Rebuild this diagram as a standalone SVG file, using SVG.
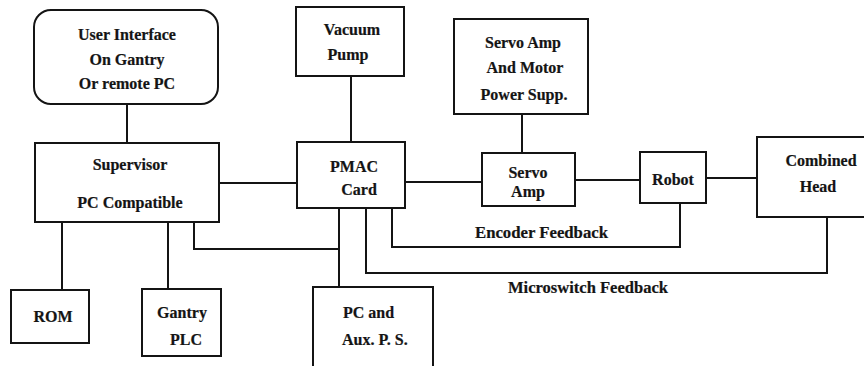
<svg xmlns="http://www.w3.org/2000/svg" width="864" height="366" viewBox="0 0 864 366">
<style>
  .box { fill: #ffffff; stroke: #141414; stroke-width: 2; }
  .wire { fill: none; stroke: #141414; stroke-width: 2; }
  .t { font-family: 'Liberation Serif', 'Times New Roman', Times, serif; font-size: 16px; font-weight: 700; fill: #141414; stroke: #141414; stroke-width: 0.2; }
  .c { text-anchor: middle; }
</style>
<rect width="864" height="366" fill="#ffffff"/>
<g id="connectors">
  <path class="wire" d="M127,104 V143"/>
  <path class="wire" d="M219,183 H298"/>
  <path class="wire" d="M62,222 V290"/>
  <path class="wire" d="M168,222 V289"/>
  <path class="wire" d="M194,222 V249 H339"/>
  <path class="wire" d="M351,76 V142"/>
  <path class="wire" d="M339,208 V287"/>
  <path class="wire" d="M405,182 H482"/>
  <path class="wire" d="M522,114 V153"/>
  <path class="wire" d="M575,180 H640"/>
  <path class="wire" d="M706,178 H757"/>
  <path class="wire" d="M392,208 V247 H680 V203"/>
  <path class="wire" d="M366,208 V273 H827 V217"/>
  <text class="t" x="475" y="238" textLength="133" lengthAdjust="spacingAndGlyphs">Encoder Feedback</text>
  <text class="t" x="508" y="293" textLength="160" lengthAdjust="spacingAndGlyphs">Microswitch Feedback</text>
</g>
<g id="ui">
  <rect class="box" x="34" y="10" width="184" height="94" rx="17"/>
  <text class="t c" x="127" y="40">User Interface</text>
  <text class="t c" x="127" y="65">On Gantry</text>
  <text class="t c" x="127" y="89">Or remote PC</text>
</g>
<g id="supervisor">
  <rect class="box" x="35" y="143" width="184" height="79"/>
  <text class="t c" x="130" y="170">Supervisor</text>
  <text class="t c" x="130" y="208">PC Compatible</text>
</g>
<g id="rom">
  <rect class="box" x="11" y="290" width="78" height="53"/>
  <text class="t c" x="53" y="322">ROM</text>
</g>
<g id="gantry-plc">
  <rect class="box" x="142" y="289" width="79" height="67"/>
  <text class="t c" x="182" y="318">Gantry</text>
  <text class="t c" x="186" y="345">PLC</text>
</g>
<g id="vacuum-pump">
  <rect class="box" x="296" y="7" width="108" height="69"/>
  <text class="t c" x="352" y="35">Vacuum</text>
  <text class="t c" x="348" y="60">Pump</text>
</g>
<g id="pmac">
  <rect class="box" x="297" y="142" width="108" height="66"/>
  <text class="t c" x="354" y="172">PMAC</text>
  <text class="t c" x="359" y="195">Card</text>
</g>
<g id="pc-aux">
  <rect class="box" x="313" y="287" width="120" height="90"/>
  <text class="t" x="343" y="318">PC and</text>
  <text class="t" x="342" y="345">Aux. P. S.</text>
</g>
<g id="servo-power">
  <rect class="box" x="454" y="19" width="134" height="95"/>
  <text class="t c" x="523" y="48">Servo Amp</text>
  <text class="t c" x="525" y="73">And Motor</text>
  <text class="t c" x="524" y="100">Power Supp.</text>
</g>
<g id="servo-amp">
  <rect class="box" x="482" y="153" width="93" height="53"/>
  <text class="t c" x="528" y="178">Servo</text>
  <text class="t c" x="528" y="197">Amp</text>
</g>
<g id="robot">
  <rect class="box" x="640" y="152" width="66" height="51"/>
  <text class="t c" x="673" y="185">Robot</text>
</g>
<g id="combined-head">
  <rect class="box" x="757" y="137" width="120" height="80"/>
  <text class="t c" x="821" y="166">Combined</text>
  <text class="t c" x="818" y="192">Head</text>
</g>
</svg>
